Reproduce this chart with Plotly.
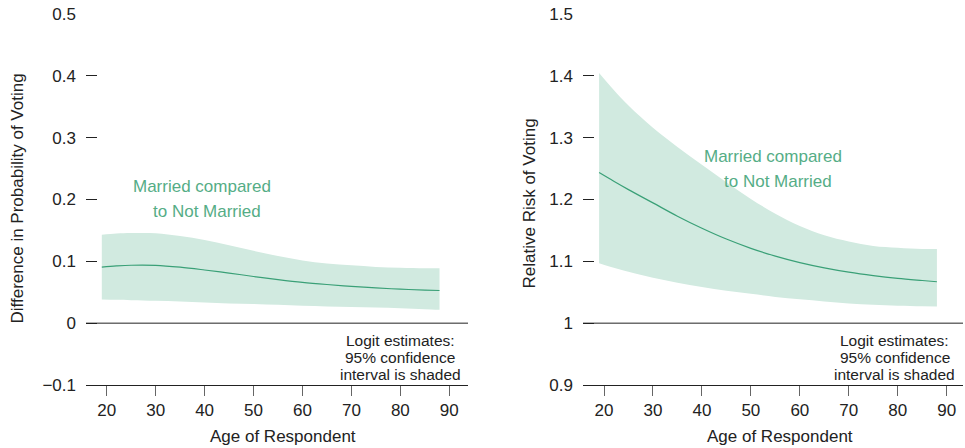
import plotly.graph_objects as go

# ---- data ----
ages = [19, 22, 25, 30, 35, 40, 45, 50, 55, 60, 65, 70, 75, 80, 85, 88]

diff_mid = [0.0906, 0.0925, 0.0937, 0.0935, 0.0905, 0.0860, 0.0810, 0.0755, 0.0705, 0.0660,
            0.0625, 0.0595, 0.0570, 0.0550, 0.0535, 0.0528]
diff_hi = [0.143, 0.145, 0.1458, 0.1455, 0.141, 0.1345, 0.126, 0.117, 0.1085, 0.1015,
           0.0965, 0.0935, 0.091, 0.0898, 0.089, 0.089]
diff_lo = [0.0383, 0.0378, 0.0372, 0.0362, 0.0350, 0.0335, 0.0320, 0.0310, 0.0296, 0.0280,
           0.0270, 0.0260, 0.0253, 0.0240, 0.0225, 0.0215]

rr_mid = [1.2435, 1.2295, 1.2160, 1.1945, 1.1730, 1.1535, 1.1360, 1.1210, 1.1085, 1.0980,
          1.0895, 1.0825, 1.0770, 1.0725, 1.0690, 1.0670]
rr_hi = [1.4045, 1.377, 1.352, 1.316, 1.285, 1.256, 1.228, 1.201, 1.177, 1.157,
         1.142, 1.132, 1.125, 1.122, 1.120, 1.120]
rr_lo = [1.097, 1.0895, 1.083, 1.0735, 1.0655, 1.0585, 1.0525, 1.0475, 1.0425, 1.0385,
         1.035, 1.032, 1.0298, 1.028, 1.0272, 1.027]

x_ticks = [20, 30, 40, 50, 60, 70, 80, 90]
y1_ticks = [-0.1, 0, 0.1, 0.2, 0.3, 0.4, 0.5]
y1_labels = ["\u22120.1", "0", "0.1", "0.2", "0.3", "0.4", "0.5"]
y2_ticks = [0.9, 1.0, 1.1, 1.2, 1.3, 1.4, 1.5]
y2_labels = ["0.9", "1", "1.1", "1.2", "1.3", "1.4", "1.5"]

label_lines = ["Married compared", "to Not Married"]
note_lines = ["Logit estimates:", "95% confidence", "interval is shaded"]

# ---- style ----
W, H = 965, 448
FONT = "Liberation Sans, Arial, Helvetica, sans-serif"
BAND = "#d1eae0"
LINE = "#3aa077"
TXT_GREEN = "#55ad86"
DARK = "#222222"


def px(x):
    return x / W


def py(y):
    return 1 - y / H


fig = go.Figure()

for xa, ya, lo, hi, mid in [("x", "y", diff_lo, diff_hi, diff_mid),
                            ("x2", "y2", rr_lo, rr_hi, rr_mid)]:
    fig.add_trace(go.Scatter(x=ages, y=lo, mode="lines", line=dict(width=0, shape="spline", color=BAND),
                             xaxis=xa, yaxis=ya, showlegend=False, hoverinfo="skip"))
    fig.add_trace(go.Scatter(x=ages, y=hi, mode="lines", line=dict(width=0, shape="spline", color=BAND),
                             fill="tonexty", fillcolor=BAND,
                             xaxis=xa, yaxis=ya, showlegend=False, hoverinfo="skip"))
    fig.add_trace(go.Scatter(x=ages, y=mid, mode="lines", line=dict(width=1.2, shape="spline", color=LINE),
                             xaxis=xa, yaxis=ya, showlegend=False))

ydom = [1 - 385 / H, 1 - 14 / H]
tickfont = dict(family=FONT, size=17, color=DARK)

xcommon = dict(tickvals=x_ticks, ticks="outside", ticklen=10, tickwidth=1, tickcolor="#666666",
               showline=True, linecolor=DARK, linewidth=1, showgrid=False, zeroline=False,
               tickfont=tickfont, automargin=False, fixedrange=True)
ycommon = dict(ticks="inside", ticklen=11, tickwidth=1, tickcolor=DARK, showline=False,
               showgrid=False, zeroline=False, tickfont=tickfont, automargin=False,
               ticklabelstandoff=9, fixedrange=True)

fig.update_layout(
    width=W, height=H,
    margin=dict(l=0, r=0, t=0, b=0),
    paper_bgcolor="white", plot_bgcolor="white",
    font=dict(family=FONT, size=17, color=DARK),
    xaxis=dict(domain=[86 / W, 468 / W], range=[15.77, 93.82], anchor="y", **xcommon),
    xaxis2=dict(domain=[583 / W, 963 / W], range=[15.71, 93.33], anchor="y2", **xcommon),
    yaxis=dict(domain=ydom, range=[-0.1, 0.5], tickvals=y1_ticks, ticktext=y1_labels,
               anchor="x", **ycommon),
    yaxis2=dict(domain=ydom, range=[0.9, 1.5], tickvals=y2_ticks, ticktext=y2_labels,
                anchor="x2", **ycommon),
)

# reference lines at 0 and 1
fig.add_shape(type="line", xref="x domain", yref="y", x0=0, x1=1, y0=0, y1=0,
              line=dict(color=DARK, width=1))
fig.add_shape(type="line", xref="x2 domain", yref="y2", x0=0, x1=1, y0=1, y1=1,
              line=dict(color=DARK, width=1))

ann = []
# axis titles
ann.append(dict(text="Difference in Probability of Voting", x=px(17), y=py(198.5), textangle=-90))
ann.append(dict(text="Relative Risk of Voting", x=px(529.5), y=py(204), textangle=-90))
ann.append(dict(text="Age of Respondent", x=px(282.5), y=py(436.5)))
ann.append(dict(text="Age of Respondent", x=px(780), y=py(436.5)))
for a in ann:
    a.update(xref="paper", yref="paper", showarrow=False, xanchor="center", yanchor="middle",
             font=dict(family=FONT, size=17, color=DARK))

# series labels
for (cx, cy), t in zip([(202, 186.7), (206.7, 211.7)], label_lines):
    ann.append(dict(text=t, x=px(cx), y=py(cy), xref="paper", yref="paper", showarrow=False,
                    xanchor="center", yanchor="middle",
                    font=dict(family=FONT, size=17, color=TXT_GREEN)))
for (cx, cy), t in zip([(773, 156), (777.5, 181)], label_lines):
    ann.append(dict(text=t, x=px(cx), y=py(cy), xref="paper", yref="paper", showarrow=False,
                    xanchor="center", yanchor="middle",
                    font=dict(family=FONT, size=17, color=TXT_GREEN)))

# notes
for cx in (400, 894.5):
    for cy, t in zip([340, 357, 374.3], note_lines):
        ann.append(dict(text=t, x=px(cx), y=py(cy), xref="paper", yref="paper", showarrow=False,
                        xanchor="center", yanchor="middle",
                        font=dict(family=FONT, size=15.5, color=DARK)))

fig.update_layout(annotations=ann)

fig.write_html("out.html", config={"displayModeBar": False},
               post_script="document.body.style.margin='0';document.body.style.padding='0';"
                           "document.body.style.overflow='hidden';")
